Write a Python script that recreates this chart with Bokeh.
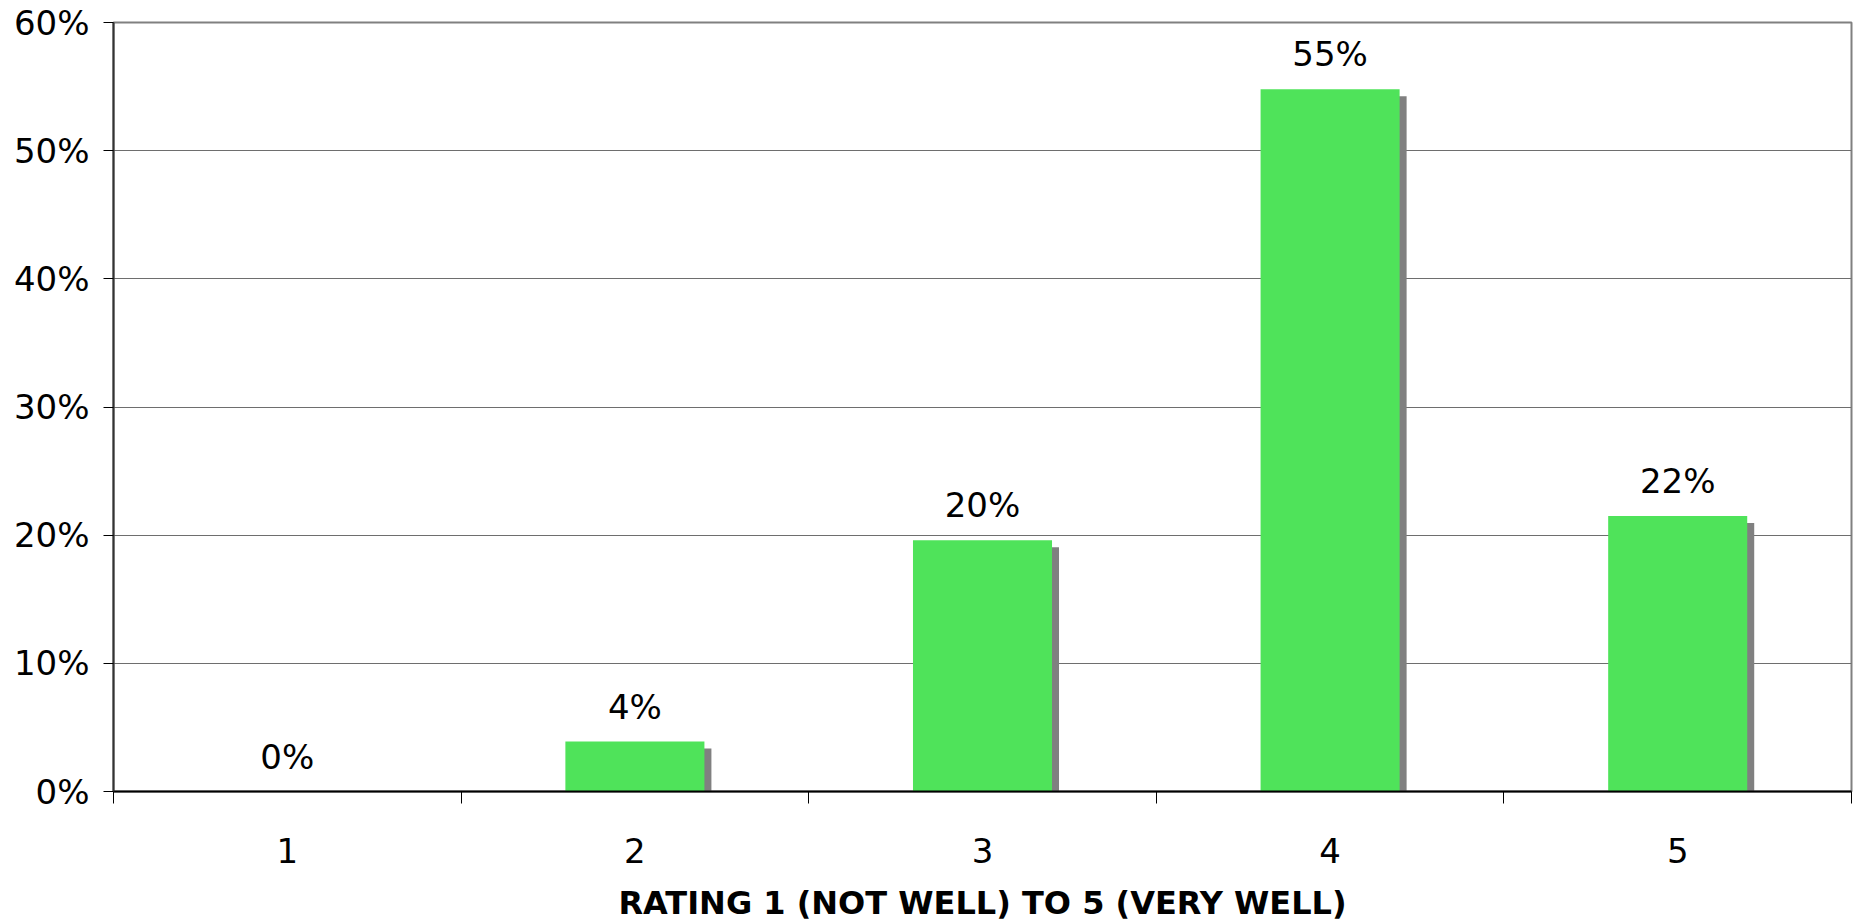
from bokeh.plotting import figure
from bokeh.models import Range1d, FixedTicker, NumeralTickFormatter, ColumnDataSource
from bokeh.core.properties import value
from bokeh.embed import file_html
from bokeh.resources import INLINE

# ---- data ----
categories = ["1", "2", "3", "4", "5"]
shares = [0.0, 0.039, 0.196, 0.548, 0.215]
labels = ["0%", "4%", "20%", "55%", "22%"]
y_ticks = [0.0, 0.1, 0.2, 0.3, 0.4, 0.5, 0.6]
x_title = "RATING 1 (NOT WELL) TO 5 (VERY WELL)"

W, H = 1853, 924
LEFT, RIGHT, TOP, BOTTOM = 113, 2, 22, 133
FONT = "DejaVu Sans"

p = figure(width=W, height=H, output_backend="svg", toolbar_location=None,
           x_range=Range1d(0.5, 0.5 + len(categories)), y_range=Range1d(0, 0.6),
           min_border_left=LEFT, min_border_right=RIGHT,
           min_border_top=TOP, min_border_bottom=BOTTOM)

frame_w = W - LEFT - RIGHT
frame_h = H - TOP - BOTTOM
dx = 7 * len(categories) / frame_w
dy = 7 * 0.6 / frame_h

xs = list(range(1, len(categories) + 1))
src = ColumnDataSource(dict(
    x=xs, top=shares,
    sx=[x + dx for x in xs], stop=[max(v - dy, 0) for v in shares],
    lab=labels,
))

p.vbar(x="sx", top="stop", bottom=0, width=0.4, source=src,
       fill_color="#808080", line_color=None)
p.vbar(x="x", top="top", bottom=0, width=0.4, source=src,
       fill_color="#4FE35A", line_color=None)
p.text(x="x", y="top", text="lab", source=src, y_offset=-35,
       text_align="center", text_baseline="alphabetic",
       text_font=value(FONT), text_font_size="34px", text_color="#000000")

# axes
p.xaxis.ticker = FixedTicker(ticks=xs, minor_ticks=[x - 0.5 for x in xs] + [xs[-1] + 0.5])
p.xaxis.major_label_overrides = {x: c for x, c in zip(xs, categories)}
p.xaxis.major_tick_out = 0
p.xaxis.major_tick_in = 0
p.xaxis.minor_tick_out = 12
p.xaxis.minor_tick_in = 0
p.xaxis.minor_tick_line_color = "#000000"
p.xaxis.axis_line_color = "#000000"
p.xaxis.axis_line_width = 2
p.xaxis.major_label_standoff = 34
p.xaxis.major_label_text_font = FONT
p.xaxis.major_label_text_font_size = "34px"
p.xaxis.major_label_text_color = "#000000"
p.xaxis.axis_label = x_title
p.xaxis.axis_label_text_font = FONT
p.xaxis.axis_label_text_font_style = "bold"
p.xaxis.axis_label_text_font_size = "32px"
p.xaxis.axis_label_text_color = "#000000"
p.xaxis.axis_label_standoff = 18

p.yaxis.ticker = FixedTicker(ticks=y_ticks)
p.yaxis.formatter = NumeralTickFormatter(format="0%")
p.yaxis.major_tick_out = 10
p.yaxis.major_tick_in = 0
p.yaxis.minor_tick_line_color = None
p.yaxis.major_tick_line_color = "#000000"
p.yaxis.axis_line_color = "#333333"
p.yaxis.axis_line_width = 2
p.yaxis.major_label_standoff = 14
p.yaxis.major_label_text_font = FONT
p.yaxis.major_label_text_font_size = "34px"
p.yaxis.major_label_text_color = "#000000"

p.xgrid.grid_line_color = None
p.ygrid.grid_line_color = "#6E6E6E"
p.ygrid.grid_line_width = 1

p.outline_line_color = "#808080"
p.outline_line_width = 2
p.background_fill_color = "#FFFFFF"
p.border_fill_color = "#FFFFFF"

open("out.html", "w").write(file_html(p, INLINE))
